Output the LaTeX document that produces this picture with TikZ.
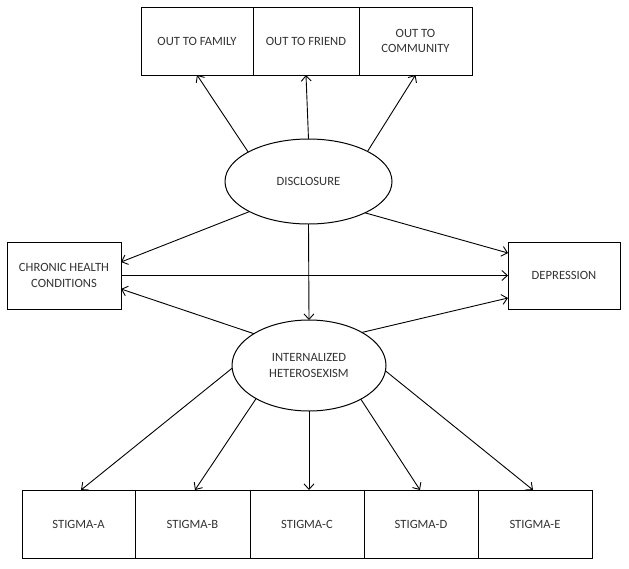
\documentclass[tikz,border=0pt]{standalone}
\usepackage{fontspec}
\setmainfont{Carlito}
\usepackage{tikz}
\usetikzlibrary{arrows.meta, shapes.geometric}
\definecolor{labelgray}{HTML}{333333}

\begin{document}
\begin{tikzpicture}[
        x=1pt, y=-1pt,
        font=\fontsize{12.6}{15.5}\selectfont,
        every node/.style={align=center, outer sep=0pt, text=labelgray},
        % observed indicators
        item/.style={rectangle, draw=black, line width=1pt,
                     inner sep=2pt, minimum height=68pt},
        % latent constructs
        latent/.style={ellipse, draw=black, line width=1pt, inner sep=0pt},
        link/.style={-{Straight Barb[length=5.5pt, width=10pt]},
                     draw=black, line width=0.9pt}
    ]
        \useasboundingbox (0,0) rectangle (629,568);

        \node[item, minimum width=112pt] (fam) at (197,41)   {OUT TO FAMILY};
        \node[item, minimum width=106pt] (fri) at (306,41)   {OUT TO FRIEND};
        \node[item, minimum width=113pt] (com) at (415.5,41) {OUT TO\\COMMUNITY};

        \node[latent, minimum width=167pt, minimum height=85pt] (disc) at (308.5,181.5) {DISCLOSURE};
        \node[latent, minimum width=154pt, minimum height=91pt] (ih) at (309,365.5) {INTERNALIZED\\HETEROSEXISM};

        \node[item, minimum width=114pt, minimum height=67pt] (chd) at (64,275.5)  {CHRONIC HEALTH\\CONDITIONS};
        \node[item, minimum width=112pt, minimum height=67pt] (dep) at (564,275.5) {DEPRESSION};

        \node[item, minimum width=113pt] (sa) at (78.5,524)  {STIGMA-A};
        \node[item, minimum width=115pt] (sb) at (192.5,524) {STIGMA-B};
        \node[item, minimum width=114pt] (sc) at (307,524)   {STIGMA-C};
        \node[item, minimum width=114pt] (sd) at (421,524)   {STIGMA-D};
        \node[item, minimum width=114pt] (se) at (535,524)   {STIGMA-E};

        \draw[link] (disc.154) -- (fam.south);
        \draw[link] (disc.90)  -- (fri.south);
        \draw[link] (disc.27)  -- (com.south);
        \draw[link] (disc.207.5) -- ([yshift=13.5pt]chd.east);
        \draw[link] (disc.331.7) -- ([yshift=22.5pt]dep.west);
        \draw[link] (disc.south) -- (ih.north);
        \draw[link] (chd.east) -- (dep.west);
        \draw[link] (ih.150)  -- ([yshift=-13.5pt]chd.east);
        \draw[link] (ih.32.5) -- ([yshift=-22.5pt]dep.west);

        \draw[link] (ih.182)   -- ([xshift=2.5pt]sa.north);
        \draw[link] (ih.212.6) -- ([xshift=2.5pt]sb.north);
        \draw[link] (ih.south) -- ([xshift=2pt]sc.north);
        \draw[link] (ih.327.7) -- ([xshift=-1pt]sd.north);
        \draw[link] (ih.356)   -- ([xshift=-2pt]se.north);
    \end{tikzpicture}
\end{document}
